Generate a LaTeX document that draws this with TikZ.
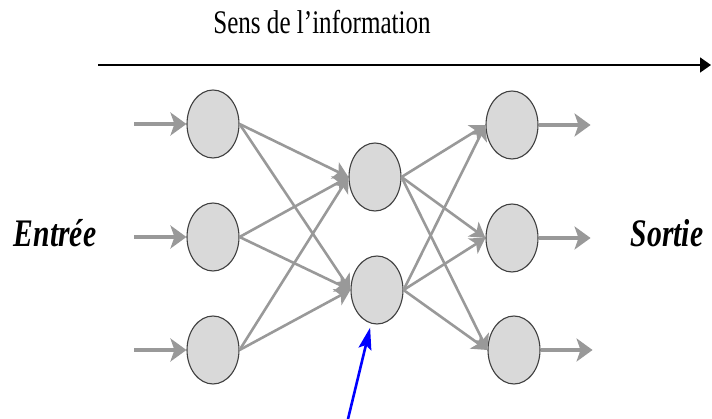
\documentclass[tikz,border=0pt]{standalone}
\usepackage{fontspec}
\setmainfont{Liberation Serif}
\usepackage{graphicx}
\usetikzlibrary{arrows.meta, shapes.geometric, calc}

\begin{document}
\begin{tikzpicture}[x=1pt, y=-1pt,
  neuron/.style={ellipse, draw=black!75, fill=black!15, line width=1.1pt, minimum width=52pt, minimum height=68pt, inner sep=0pt},
  link/.style={-{Stealth[length=15pt, width=18pt, inset=4pt]}, draw=black!40, fill=black!40, line width=2.6pt},
  stub/.style={link, -{Stealth[length=16pt, width=23pt, inset=4pt]}, line width=3.6pt},
  flow/.style={-{Triangle[length=11pt, width=15pt]}, line width=1.8pt},
  pointer/.style={-{Stealth[length=22pt, width=13pt, inset=4pt]}, draw=blue, fill=blue, line width=2.6pt, shorten >=4pt},
  side/.style={font=\fontsize{39}{44}\selectfont\bfseries\itshape, inner sep=0pt, anchor=base}
]
\useasboundingbox (0,0) rectangle (712,419);

% Direction of flow
\node[font=\fontsize{33}{38}\selectfont, inner sep=0pt, anchor=base] (title) at (322,34) {\scalebox{0.76}[1]{Sens de l’information}};
\coordinate (flowstart) at (98,65);
\coordinate (flowend) at (711,65);
\draw[flow] (flowstart) -- (flowend);

% Neurons (input, hidden, output layers)
\node[neuron] (i1) at (213,124) {};
\node[neuron] (i2) at (213,237) {};
\node[neuron] (i3) at (213,350) {};
\node[neuron] (h1) at (375,177) {};
\node[neuron] (h2) at (377,290) {};
\node[neuron] (o1) at (512,125) {};
\node[neuron] (o2) at (512,238) {};
\node[neuron] (o3) at (514,350) {};

% Side labels
\node[side] (inlabel) at (55,247) {\scalebox{0.76}[1]{Entrée}};
\node[side] (outlabel) at (667,247) {\scalebox{0.76}[1]{Sortie}};

% Inputs and outputs
\foreach \n in {1,2,3}{
  \coordinate (in\n) at ($(i\n.west)+(-52,0)$);
  \coordinate (out\n) at ($(o\n.east)+(52,0)$);
  \draw[stub] (in\n) -- (i\n.west);
  \draw[stub] (o\n.east) -- (out\n);
}

% Connections between layers
\foreach \a in {1,2,3}{\foreach \b in {1,2}{\draw[link] (i\a.east) -- (h\b.west);}}
\foreach \b in {1,2}{\foreach \c in {1,2,3}{\draw[link] (h\b.east) -- (o\c.west);}}

% Pointer to a hidden neuron
\coordinate (tail) at (348,419);
\draw[pointer] (tail) -- (h2.260);
\end{tikzpicture}
\end{document}
